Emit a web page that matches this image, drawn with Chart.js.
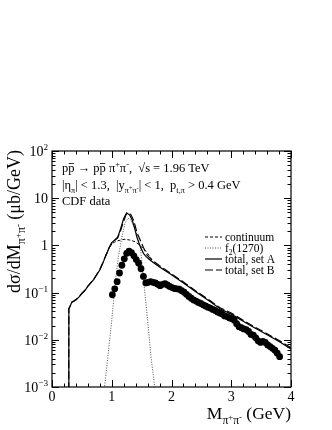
<!DOCTYPE html>
<html>
<head>
<meta charset="utf-8">
<script src="https://cdn.jsdelivr.net/npm/chart.js@4.4.1/dist/chart.umd.min.js"></script>
<style>
  html, body { margin: 0; padding: 0; background: #fff; }
  canvas { display: block; }
</style>
</head>
<body>
<canvas id="chart" width="332" height="430"></canvas>
<script>
// CDF data points
const dataMass = [1.01, 1.05, 1.09, 1.13, 1.17, 1.21, 1.25, 1.29, 1.33, 1.37,
    1.41, 1.45, 1.49, 1.53, 1.57, 1.61, 1.65, 1.69, 1.73, 1.77,
    1.81, 1.85, 1.89, 1.93, 1.97, 2.01, 2.05, 2.09, 2.13, 2.17,
    2.21, 2.25, 2.29, 2.33, 2.37, 2.41, 2.45, 2.49, 2.53, 2.57,
    2.61, 2.65, 2.69, 2.73, 2.77, 2.81, 2.85, 2.89, 2.93, 2.97,
    3.01, 3.05, 3.09, 3.13, 3.17, 3.21, 3.25, 3.29, 3.33, 3.37,
    3.41, 3.45, 3.49, 3.53, 3.57, 3.61, 3.65, 3.69, 3.73, 3.77, 3.81];
const dataXsec = [0.09, 0.12, 0.17, 0.26, 0.38, 0.52, 0.68, 0.76, 0.70, 0.60,
    0.50, 0.42, 0.32, 0.22, 0.16, 0.165, 0.17, 0.165, 0.16, 0.15,
    0.14, 0.15, 0.155, 0.145, 0.135, 0.128, 0.122, 0.12, 0.118, 0.11,
    0.102, 0.092, 0.083, 0.076, 0.07, 0.066, 0.062, 0.059, 0.055, 0.052,
    0.049, 0.047, 0.044, 0.042, 0.039, 0.037, 0.035, 0.032, 0.031, 0.029,
    0.028, 0.026, 0.022, 0.019, 0.018, 0.017, 0.0165, 0.015, 0.013, 0.0125,
    0.011, 0.0095, 0.0088, 0.0092, 0.0088, 0.0078, 0.0072, 0.0066, 0.006, 0.0052, 0.0044];

// total, set A (solid)
const totalAMass = [0.279, 0.282, 0.30, 0.33, 0.36, 0.40, 0.45, 0.50, 0.55, 0.60,
    0.65, 0.70, 0.75, 0.80, 0.85, 0.90, 0.95, 1.00, 1.05, 1.10,
    1.15, 1.20, 1.25, 1.30, 1.34, 1.38, 1.42, 1.47, 1.53, 1.58,
    1.64, 1.70, 1.80, 2.00, 2.20, 2.40, 2.65, 2.82, 3.00, 3.32, 3.60, 3.80, 4.00];
const totalAXsec = [0.0005, 0.045, 0.05, 0.062, 0.065, 0.07, 0.08, 0.095, 0.11, 0.135,
    0.16, 0.19, 0.24, 0.30, 0.42, 0.6, 0.85, 1.15, 1.3, 1.5,
    2.3, 3.7, 4.9, 4.4, 3.5, 2.4, 1.5, 1.0, 0.68, 0.57,
    0.49, 0.43, 0.35, 0.24, 0.16, 0.105, 0.064, 0.045, 0.035, 0.02, 0.0128, 0.0092, 0.0064];

// total, set B (long dash)
const totalBMass = [0.279, 0.282, 0.30, 0.33, 0.36, 0.40, 0.45, 0.50, 0.55, 0.60,
    0.65, 0.70, 0.75, 0.80, 0.85, 0.90, 0.95, 1.00, 1.05, 1.10,
    1.15, 1.20, 1.24, 1.28, 1.32, 1.37, 1.42, 1.47, 1.53, 1.59,
    1.65, 1.70, 1.80, 2.00, 2.20, 2.40, 2.65, 2.82, 3.00, 3.32, 3.60, 3.80, 4.00];
const totalBXsec = [0.0005, 0.046, 0.051, 0.063, 0.066, 0.071, 0.081, 0.097, 0.112, 0.138,
    0.163, 0.194, 0.245, 0.31, 0.43, 0.61, 0.87, 1.12, 1.28, 1.45,
    2.1, 3.3, 4.5, 4.8, 4.5, 3.3, 1.9, 1.35, 0.9, 0.63,
    0.52, 0.46, 0.37, 0.25, 0.168, 0.11, 0.067, 0.047, 0.037, 0.021, 0.0134, 0.0097, 0.0068];

// continuum (short dash)
const contMass = [0.90, 0.95, 1.00, 1.05, 1.10, 1.15, 1.22, 1.30, 1.39, 1.45, 1.50, 1.56, 1.62, 1.70];
const contXsec = [0.6, 0.85, 1.08, 1.18, 1.25, 1.3, 1.35, 1.3, 1.2, 1.05, 0.93, 0.78, 0.63, 0.43];

// f2(1270) (dotted)
const f2Mass = [0.84, 0.88, 0.94, 1.00, 1.06, 1.11, 1.17, 1.22, 1.27, 1.32, 1.37, 1.42, 1.48, 1.54, 1.60, 1.66, 1.72, 1.76];
const f2Xsec = [0.0004, 0.001, 0.005, 0.026, 0.17, 0.58, 1.5, 2.9, 3.8, 3.4, 2.5, 1.7, 0.9, 0.15, 0.026, 0.004, 0.001, 0.0004];

// axis ticks
const xTickValues = [0, 1, 2, 3, 4];
const xTickLabels = ['0', '1', '2', '3', '4'];
const yTickExponents = [-3, -2, -1, 0, 1, 2];

const SERIF = '"Liberation Serif", "Times New Roman", "DejaVu Serif", serif';

const toPoints = (xs, ys) => xs.map((v, i) => ({ x: v, y: ys[i] }));

// draws text made of pieces: n = normal, sub, sup, ss = sup inside sub, bar = overlined
function drawRich(ctx, x, y, parts, size, align) {
    const styles = { n: [1, 0], sub: [0.66, 0.3], sup: [0.66, -0.42], ss: [0.5, 0.04], bar: [1, 0] };
    let w = 0;
    parts.forEach(([t, m]) => {
        ctx.font = (size * styles[m][0]) + 'px ' + SERIF;
        w += ctx.measureText(t).width;
    });
    let cx = align === 'right' ? x - w : align === 'center' ? x - w / 2 : x;
    ctx.textAlign = 'left';
    ctx.textBaseline = 'alphabetic';
    parts.forEach(([t, m]) => {
        const s = styles[m];
        ctx.font = (size * s[0]) + 'px ' + SERIF;
        const tw = ctx.measureText(t).width;
        ctx.fillText(t, cx, y + size * s[1]);
        if (m === 'bar') {
            ctx.beginPath();
            ctx.lineWidth = 0.8;
            ctx.moveTo(cx + 0.5, y - size * 0.68);
            ctx.lineTo(cx + tw - 0.5, y - size * 0.68);
            ctx.stroke();
        }
        cx += tw;
    });
}

const legendEntries = [
    { ds: 2, parts: [['continuum', 'n']] },
    { ds: 3, parts: [['f', 'n'], ['2', 'sub'], ['(1270)', 'n']] },
    { ds: 1, parts: [['total, set A', 'n']] },
    { ds: 4, parts: [['total, set B', 'n']] }
];

const rootFrame = {
    id: 'rootFrame',
    afterDatasetsDraw(chart) {
        const { ctx, chartArea: a, scales: { x, y } } = chart;
        ctx.save();
        ctx.strokeStyle = '#000';
        ctx.fillStyle = '#000';

        const seg = (x1, y1, x2, y2) => {
            ctx.beginPath(); ctx.moveTo(x1, y1); ctx.lineTo(x2, y2); ctx.stroke();
        };

        // ticks, inward on all four sides
        ctx.lineWidth = 1;
        for (let i = 0; i <= 20; i++) {
            const px = Math.round(x.getPixelForValue(i * 0.2)) + 0.5;
            const len = i % 5 === 0 ? 7 : 3.5;
            seg(px, a.bottom, px, a.bottom - len);
            seg(px, a.top, px, a.top + len);
        }
        for (let d = -3; d <= 2; d++) {
            for (let k = 1; k <= 9; k++) {
                if (d === 2 && k > 1) break;
                const py = Math.round(y.getPixelForValue(k * Math.pow(10, d))) + 0.5;
                const len = k === 1 ? 7 : 3.5;
                seg(a.left, py, a.left + len, py);
                seg(a.right, py, a.right - len, py);
            }
        }

        // frame
        ctx.lineWidth = 1.2;
        ctx.strokeRect(a.left, a.top, a.right - a.left, a.bottom - a.top);

        // x tick labels
        xTickValues.forEach((v, i) => {
            drawRich(ctx, x.getPixelForValue(v), a.bottom + 14, [[xTickLabels[i], 'n']], 14, 'center');
        });
        // y tick labels
        yTickExponents.forEach(e => {
            const py = y.getPixelForValue(Math.pow(10, e));
            let parts;
            if (e === 0) parts = [['1', 'n']];
            else if (e === 1) parts = [['10', 'n']];
            else parts = [['10', 'n'], [e < 0 ? '\u2212' + (-e) : String(e), 'sup']];
            drawRich(ctx, a.left - 4, py + 5, parts, 14, 'right');
        });

        // axis titles
        drawRich(ctx, a.right, a.bottom + 32,
            [['M', 'n'], ['\u03c0', 'sub'], ['+', 'ss'], ['\u03c0', 'sub'], ['-', 'ss'], [' (GeV)', 'n']], 17.5, 'right');
        ctx.save();
        ctx.translate(20, a.top - 1);
        ctx.rotate(-Math.PI / 2);
        drawRich(ctx, 0, 0,
            [['d\u03c3/dM', 'n'], ['\u03c0', 'sub'], ['+', 'ss'], ['\u03c0', 'sub'], ['-', 'ss'], [' (\u03bcb/GeV)', 'n']], 18, 'right');
        ctx.restore();

        // annotation text
        const tx = a.left + 10;
        drawRich(ctx, tx, a.top + 21, [
            ['p', 'n'], ['p', 'bar'], [' \u2192 ', 'n'], ['p', 'n'], ['p', 'bar'], [' \u03c0', 'n'], ['+', 'sup'],
            ['\u03c0', 'n'], ['-', 'sup'], [',  \u221as = 1.96 TeV', 'n']], 12.5, 'left');
        drawRich(ctx, tx, a.top + 38, [
            ['|\u03b7', 'n'], ['\u03c0', 'sub'], ['| < 1.3,  |y', 'n'], ['\u03c0', 'sub'], ['+', 'ss'], ['\u03c0', 'sub'], ['-', 'ss'],
            ['| < 1,  p', 'n'], ['t,\u03c0', 'sub'], [' > 0.4 GeV', 'n']], 12.5, 'left');
        drawRich(ctx, tx, a.top + 54, [['CDF data', 'n']], 12.5, 'left');

        // legend
        legendEntries.forEach((entry, i) => {
            const ds = chart.data.datasets[entry.ds];
            const cy = 237 + i * 11;
            ctx.save();
            ctx.lineWidth = ds.borderWidth;
            ctx.setLineDash(ds.borderDash || []);
            ctx.strokeStyle = ds.borderColor;
            seg(205, cy, 222, cy);
            ctx.restore();
            drawRich(ctx, 225, cy + 4, entry.parts, 11.5, 'left');
        });

        ctx.restore();
    }
};

new Chart(document.getElementById('chart'), {
    type: 'scatter',
    data: {
        datasets: [
            {
                label: 'CDF data',
                data: toPoints(dataMass, dataXsec),
                pointRadius: 3.4,
                pointBackgroundColor: '#000',
                pointBorderWidth: 0,
                showLine: false
            },
            {
                label: 'total, set A',
                data: toPoints(totalAMass, totalAXsec),
                showLine: true,
                borderColor: '#000',
                borderWidth: 1.2,
                pointRadius: 0
            },
            {
                label: 'continuum',
                data: toPoints(contMass, contXsec),
                showLine: true,
                borderColor: '#000',
                borderWidth: 1,
                borderDash: [3, 2],
                pointRadius: 0
            },
            {
                label: 'f2(1270)',
                data: toPoints(f2Mass, f2Xsec),
                showLine: true,
                borderColor: '#222',
                borderWidth: 0.8,
                borderDash: [1, 1.5],
                pointRadius: 0
            },
            {
                label: 'total, set B',
                data: toPoints(totalBMass, totalBXsec),
                showLine: true,
                borderColor: '#000',
                borderWidth: 1.2,
                borderDash: [8, 3],
                pointRadius: 0
            }
        ]
    },
    options: {
        responsive: false,
        animation: false,
        devicePixelRatio: 1,
        layout: {
            padding: { left: 52, right: 41, top: 151, bottom: 43 }
        },
        plugins: {
            legend: { display: false },
            tooltip: { enabled: false }
        },
        scales: {
            x: { type: 'linear', min: 0, max: 4, display: false },
            y: { type: 'logarithmic', min: 0.001, max: 100, display: false }
        }
    },
    plugins: [rootFrame]
});
</script>
</body>
</html>
